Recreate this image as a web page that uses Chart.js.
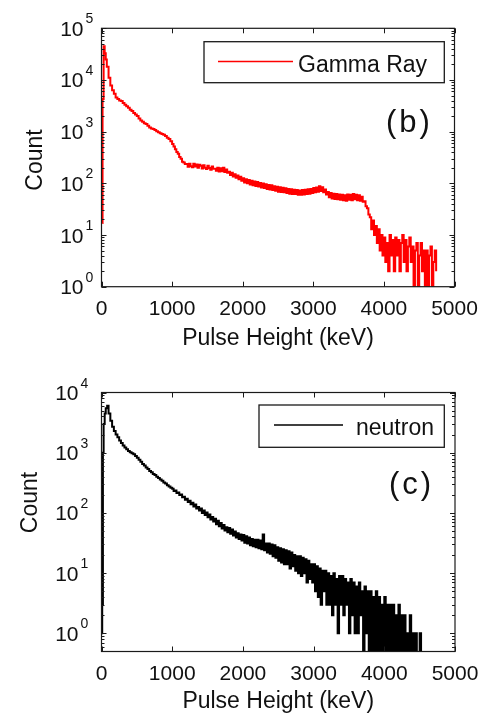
<!DOCTYPE html>
<html>
<head>
<meta charset="utf-8">
<script src="https://cdn.jsdelivr.net/npm/chart.js@4.4.1/dist/chart.umd.min.js"></script>
<style>
  html, body { margin: 0; padding: 0; background: #ffffff; }
  #wrap { position: relative; width: 489px; height: 713px; overflow: hidden; }
  canvas { position: absolute; left: 0; }
  #c1 { top: 0; }
  #c2 { top: 360px; }
</style>
</head>
<body>
<div id="wrap">
  <canvas id="c1" width="489" height="360"></canvas>
  <canvas id="c2" width="489" height="353"></canvas>
</div>
<script>
// ---------------- DATA ----------------
const xTickValues = [0, 1000, 2000, 3000, 4000, 5000];

const gammaDecades = [1, 10, 100, 1000, 10000, 100000];
const gammaExponents = ['0', '1', '2', '3', '4', '5'];
const neutronDecades = [1, 10, 100, 1000, 10000];
const neutronExponents = ['0', '1', '2', '3', '4'];

// Gamma Ray spectrum: bin energy (keV) and count
const gammaEnergy = [
  10, 15, 30, 45, 60, 75, 100, 125, 150, 175, 200,
  225, 250, 275, 300, 325, 350, 375, 400, 425, 450,
  475, 500, 525, 550, 575, 600, 625, 650, 675, 700,
  725, 750, 775, 800, 825, 850, 875, 900, 925, 950,
  975,
  1000, 1020, 1040, 1060, 1080, 1100, 1120, 1140, 1160, 1180,
  1200, 1220, 1240, 1260, 1280, 1300, 1320, 1340, 1360, 1380,
  1400, 1420, 1440, 1460, 1480, 1500, 1520, 1540, 1560, 1580,
  1600, 1620, 1640, 1660, 1680, 1700, 1720, 1740, 1760, 1780,
  1800, 1820, 1840, 1860, 1880, 1900, 1920, 1940, 1960, 1980,
  2000, 2020, 2040, 2060, 2080, 2100, 2120, 2140, 2160, 2180,
  2200, 2220, 2240, 2260, 2280, 2300, 2320, 2340, 2360, 2380,
  2400, 2420, 2440, 2460, 2480, 2500, 2520, 2540, 2560, 2580,
  2600, 2620, 2640, 2660, 2680, 2700, 2720, 2740, 2760, 2780,
  2800, 2820, 2840, 2860, 2880, 2900, 2920, 2940, 2960, 2980,
  3000, 3020, 3040, 3060, 3080, 3100, 3120, 3140, 3160, 3180,
  3200, 3220, 3240, 3260, 3280, 3300, 3320, 3340, 3360, 3380,
  3400, 3420, 3440, 3460, 3480, 3500, 3520, 3540, 3560, 3580,
  3600, 3620, 3640, 3660, 3680, 3700, 3720, 3740, 3760, 3780,
  3800, 3820, 3840, 3860, 3880, 3900, 3920, 3940, 3960, 3980,
  4000, 4020, 4040, 4060, 4080, 4100, 4120, 4140, 4160, 4180,
  4200, 4220, 4240, 4260, 4280, 4300, 4320, 4340, 4360, 4380,
  4400, 4420, 4440, 4460, 4480, 4500, 4520, 4540, 4560, 4580,
  4600, 4620, 4640, 4660, 4680, 4700, 4720, 4740
];
const gammaCount = [
  17, 4300, 45000, 33000, 25000, 18000, 11000, 7800, 6300, 5400, 4600,
  4300, 4000, 3900, 3600, 3300, 3100, 2900, 2650, 2500, 2300,
  2150, 2000, 1800, 1650, 1550, 1450, 1400, 1300, 1200, 1150,
  1120, 1080, 1020, 970, 930, 900, 870, 820, 760, 720,
  650,
  580, 515, 455, 405, 375, 325, 300, 262, 252, 238,
  238, 210, 240, 215, 205, 240, 212, 232, 200, 228,
  218, 194, 224, 200, 190, 220, 198, 184, 212, 192,
  192, 176, 200, 170, 196, 172, 200, 165, 186, 160,
  168, 145, 160, 136, 150, 128, 142, 120, 134, 112,
  126, 104, 120, 100, 116, 95, 112, 92, 108, 89,
  106, 87, 101, 83, 99, 81, 96, 78, 93, 76,
  92, 74, 88, 72, 86, 69, 84, 68, 82, 67,
  80, 65, 78, 63, 77, 62, 75, 62, 74, 60,
  73, 60, 74, 61, 75, 62, 77, 63, 78, 65,
  81, 67, 83, 69, 88, 71, 84, 67, 76, 61,
  68, 54, 65, 51, 63, 50, 62, 49, 61, 48,
  60, 47, 59, 46, 61, 48, 60, 47, 62, 49,
  60, 47, 59, 46, 55, 44, 45, 36, 33, 25,
  22, 13, 19, 10, 15, 7, 13, 5, 10, 4,
  9, 3, 7, 2, 10, 4, 8, 2, 9, 4,
  8, 2, 7, 10, 3, 8, 2, 6, 9, 3,
  6, 1, 5, 7, 1, 4, 7, 2, 5, 1,
  5, 1, 4, 6, 1, 3, 5, 2
];

// Neutron spectrum: bin energy (keV) and count
const neutronEnergy = [
  0, 10, 20, 30, 45, 60, 80, 100, 125, 150, 175, 200,
  225, 250, 275, 300, 325, 350, 375, 400, 425, 450,
  475, 500, 525, 550, 575, 600, 625, 650, 675, 700,
  725, 750, 775, 800, 825, 850, 875, 900, 925, 950,
  975,
  1000, 1020, 1040, 1060, 1080, 1100, 1120, 1140, 1160, 1180,
  1200, 1220, 1240, 1260, 1280, 1300, 1320, 1340, 1360, 1380,
  1400, 1420, 1440, 1460, 1480, 1500, 1520, 1540, 1560, 1580,
  1600, 1620, 1640, 1660, 1680, 1700, 1720, 1740, 1760, 1780,
  1800, 1820, 1840, 1860, 1880, 1900, 1920, 1940, 1960, 1980,
  2000, 2020, 2040, 2060, 2080, 2100, 2120, 2140, 2160, 2180,
  2200, 2220, 2240, 2260, 2280, 2300, 2320, 2340, 2360, 2380,
  2400, 2420, 2440, 2460, 2480, 2500, 2520, 2540, 2560, 2580,
  2600, 2620, 2640, 2660, 2680, 2700, 2720, 2740, 2760, 2780,
  2800, 2820, 2840, 2860, 2880, 2900, 2920, 2940, 2960, 2980,
  3000, 3020, 3040, 3060, 3080, 3100, 3120, 3140, 3160, 3180,
  3200, 3220, 3240, 3260, 3280, 3300, 3320, 3340, 3360, 3380,
  3400, 3420, 3440, 3460, 3480, 3500, 3520, 3540, 3560, 3580,
  3600, 3620, 3640, 3660, 3680, 3700, 3720, 3740, 3760, 3780,
  3800, 3820, 3840, 3860, 3880, 3900, 3920, 3940, 3960, 3980,
  4000, 4020, 4040, 4060, 4080, 4100, 4120, 4140, 4160, 4180,
  4200, 4220, 4240, 4260, 4280, 4300, 4320, 4340, 4360, 4380,
  4400, 4420, 4440, 4460, 4480, 4500, 4520
];
const neutronCount = [
  1, 3, 1000, 3000, 4500, 5500, 6000, 4500, 3400, 2700, 2300, 2000,
  1800, 1600, 1450, 1320, 1220, 1140, 1070, 1020, 980, 940,
  880, 825, 765, 705, 648, 612, 568, 538, 498, 472,
  445, 425, 398, 380, 358, 342, 320, 308, 288, 275,
  262,
  252, 232, 236, 214, 218, 198, 202, 182, 186, 166,
  172, 152, 160, 140, 148, 128, 138, 118, 126, 110,
  119, 100, 110, 92, 102, 85, 94, 78, 86, 72,
  80, 65, 74, 60, 68, 55, 63, 51, 58, 48,
  56, 45, 53, 42, 49, 39, 46, 37, 44, 35,
  43, 32, 41, 31, 39, 29, 37, 28, 36, 27,
  36, 26, 35, 25, 44, 24, 31, 22, 31, 21,
  30, 19, 29, 18, 27, 16, 26, 15, 25, 14,
  24, 14, 23, 12, 22, 13, 20, 11, 19, 10,
  19, 9, 18, 10, 17, 7, 16, 8, 14, 7,
  14, 5, 13, 4, 12, 3, 11, 5, 11, 3,
  10, 3, 9, 2, 10, 3, 8, 1, 9, 3,
  9, 2, 8, 3, 7, 1, 8, 2, 7, 1,
  6, 1, 7, 2, 5, 0, 6, 1, 5, 0,
  5, 0, 4, 0, 5, 0, 4, 0, 3, 0,
  4, 0, 3, 0, 3, 0, 3, 0, 2, 0,
  3, 0, 2, 0, 2, 0, 1, 0, 2, 0,
  1, 0, 1, 0, 0, 1, 0
];

// ---------------- DRAWING ----------------
const FONT = '"Liberation Sans", Arial, Helvetica, sans-serif';
// a log axis cannot show a zero count: zero bins are drawn below the axis floor (clipped)
const ZERO_FLOOR = 0.05;

function toPoints(xs, ys) {
  return xs.map((x, i) => ({ x: x, y: ys[i] > 0 ? ys[i] : ZERO_FLOOR }));
}

function decorPlugin(cfg) {
  return {
    id: 'decor_' + cfg.key,
    afterDraw(chart) {
      const ctx = chart.ctx;
      const a = chart.chartArea;
      const xs = chart.scales.x, ys = chart.scales.y;
      ctx.save();
      // frame
      ctx.strokeStyle = '#1a1a1a';
      ctx.lineWidth = 1.2;
      ctx.strokeRect(a.left, a.top, a.right - a.left, a.bottom - a.top);
      // x ticks (inward, bottom & top)
      ctx.lineWidth = 1;
      ctx.beginPath();
      xTickValues.forEach(v => {
        const x = Math.round(xs.getPixelForValue(v)) + 0.5;
        ctx.moveTo(x, a.bottom); ctx.lineTo(x, a.bottom - 5);
        ctx.moveTo(x, a.top); ctx.lineTo(x, a.top + 5);
      });
      // y ticks (major and minor, inward, left & right)
      const yMin = ys.min, yMax = ys.max;
      const allDec = [cfg.decades[0] / 10].concat(cfg.decades);
      allDec.forEach(d => {
        if (d >= yMin && d <= yMax) {
          const y = Math.round(ys.getPixelForValue(d)) + 0.5;
          ctx.moveTo(a.left, y); ctx.lineTo(a.left + 5, y);
          ctx.moveTo(a.right, y); ctx.lineTo(a.right - 5, y);
        }
        for (let m = 2; m <= 9; m++) {
          const v = d * m;
          if (v > yMin && v < yMax) {
            const y = Math.round(ys.getPixelForValue(v)) + 0.5;
            ctx.moveTo(a.left, y); ctx.lineTo(a.left + 3, y);
            ctx.moveTo(a.right, y); ctx.lineTo(a.right - 3, y);
          }
        }
      });
      ctx.stroke();
      // y tick labels: 10 with exponent
      ctx.fillStyle = '#111';
      cfg.decades.forEach((d, i) => {
        const y = ys.getPixelForValue(d);
        ctx.font = '21px ' + FONT;
        ctx.textAlign = 'right';
        ctx.textBaseline = 'alphabetic';
        ctx.fillText('10', cfg.labelRight, y + 7.5);
        ctx.font = '14px ' + FONT;
        ctx.textAlign = 'left';
        ctx.fillText(cfg.exponents[i], cfg.labelRight + 2, y - 5);
      });
      // y axis title
      ctx.save();
      ctx.translate(cfg.yTitleX, cfg.yTitleY);
      ctx.rotate(-Math.PI / 2);
      ctx.font = '23px ' + FONT;
      ctx.textAlign = 'center';
      ctx.textBaseline = 'middle';
      ctx.fillText('Count', 0, 0);
      ctx.restore();
      // legend box
      const L = cfg.legend;
      ctx.strokeStyle = '#1a1a1a';
      ctx.lineWidth = 1.3;
      ctx.strokeRect(L.x0, L.y0, L.x1 - L.x0, L.y1 - L.y0);
      ctx.strokeStyle = cfg.color;
      ctx.lineWidth = 1.5;
      ctx.beginPath();
      ctx.moveTo(L.lx0, L.ly); ctx.lineTo(L.lx1, L.ly);
      ctx.stroke();
      ctx.fillStyle = '#111';
      ctx.font = '23px ' + FONT;
      ctx.textAlign = 'left';
      ctx.textBaseline = 'alphabetic';
      ctx.fillText(cfg.label, L.tx, L.ty);
      // panel label
      ctx.font = '31px ' + FONT;
      try { ctx.letterSpacing = '3px'; } catch (e) {}
      ctx.fillText(cfg.panel, cfg.panelX, cfg.panelY);
      ctx.restore();
    }
  };
}

function makeChart(canvasId, cfg) {
  const canvas = document.getElementById(canvasId);
  return new Chart(canvas, {
    type: 'line',
    data: {
      datasets: [{
        label: cfg.label,
        data: toPoints(cfg.xs, cfg.ys),
        borderColor: cfg.color,
        borderWidth: cfg.lineWidth,
        pointRadius: 0,
        stepped: true,
        tension: 0,
        fill: false
      }]
    },
    options: {
      responsive: false,
      animation: false,
      devicePixelRatio: 1,
      layout: { padding: { left: 0, right: cfg.padRight, top: cfg.padTop, bottom: 0 } },
      plugins: { legend: { display: false }, tooltip: { enabled: false } },
      scales: {
        x: {
          type: 'linear',
          min: 0, max: 5000,
          afterBuildTicks: (s) => { s.ticks = xTickValues.map(v => ({ value: v })); },
          ticks: {
            callback: (v) => String(v),
            font: { family: FONT, size: 21 },
            color: '#111',
            padding: cfg.xTickPad,
            maxRotation: 0, autoSkip: false
          },
          grid: { display: false, drawTicks: false },
          border: { display: false },
          title: {
            display: true, text: 'Pulse Height (keV)', color: '#111',
            font: { family: FONT, size: 23, lineHeight: 1 },
            padding: { top: 0, bottom: cfg.xTitlePad }
          },
          afterFit: (s) => { s.height = cfg.xAxisHeight; }
        },
        y: {
          type: 'logarithmic',
          min: cfg.yMin, max: cfg.yMax,
          ticks: { display: false },
          grid: { display: false, drawTicks: false },
          border: { display: false },
          title: { display: false, text: 'Count' },
          afterFit: (s) => { s.width = cfg.yAxisWidth; }
        }
      }
    },
    plugins: [decorPlugin(cfg)]
  });
}

makeChart('c1', {
  key: 'b',
  xs: gammaEnergy, ys: gammaCount,
  label: 'Gamma Ray', color: '#ff0000', lineWidth: 2,
  yMin: 1, yMax: 100000,
  decades: gammaDecades, exponents: gammaExponents,
  padRight: 34.5, padTop: 28.3,
  xAxisHeight: 73.3, yAxisWidth: 101.5,
  xTickPad: 10, xTitlePad: 9.5,
  yTitleX: 36, yTitleY: 160,
  labelRight: 83.5,
  legend: { x0: 204, y0: 41.7, x1: 444.3, y1: 82.7, lx0: 218, lx1: 293, ly: 61.5, tx: 298, ty: 72 },
  panel: '(b)', panelX: 386, panelY: 132
});

makeChart('c2', {
  key: 'c',
  xs: neutronEnergy, ys: neutronCount,
  label: 'neutron', color: '#000000', lineWidth: 2,
  yMin: 0.5, yMax: 10000,
  decades: neutronDecades, exponents: neutronExponents,
  padRight: 34, padTop: 32.5,
  xAxisHeight: 61.5, yAxisWidth: 101.5,
  xTickPad: 10, xTitlePad: 0,
  yTitleX: 31, yTitleY: 142.5,
  labelRight: 78.5,
  legend: { x0: 259, y0: 45, x1: 444.3, y1: 87.3, lx0: 274, lx1: 343, ly: 65, tx: 356, ty: 75 },
  panel: '(c)', panelX: 389, panelY: 134
});
</script>
</body>
</html>
